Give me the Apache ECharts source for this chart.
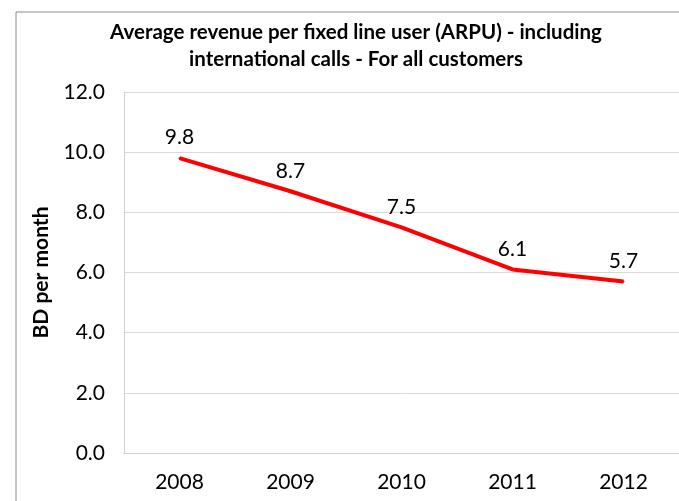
<!DOCTYPE html>
<html>
<head>
<meta charset="utf-8">
<script src="https://cdn.jsdelivr.net/npm/echarts@6/dist/echarts.min.js"></script>
<style>
html,body{margin:0;padding:0;background:#fff;}
#chart{width:679px;height:501px;}
</style>
</head>
<body>
<div id="chart"></div>
<script>
// categories and values
const years = ['2008', '2009', '2010', '2011', '2012'];
const arpu = [9.8, 8.7, 7.5, 6.1, 5.7];

const font = 'Lato, "Open Sans", sans-serif';
let chart = echarts.init(document.getElementById('chart'));
chart.setOption({
	backgroundColor: '#fff',
	animation: false,
	title: {
		text: 'Average revenue per fixed line user (ARPU) - including\ninternational calls - For all customers',
		left: 351, top: 14, textAlign: 'center',
		textStyle: { fontFamily: font, fontSize: 20.5, fontWeight: 'bold', color: '#000', lineHeight: 27 }
	},
	graphic: [{
		type: 'rect', shape: { x: 16, y: 12, width: 700, height: 600 },
		style: { fill: 'none', stroke: '#8c8c8c', lineWidth: 1 }, silent: true
	}],
	grid: { left: 124, right: -5, top: 92, bottom: 48 },
	xAxis: {
		type: 'category', data: years, boundaryGap: true,
		axisLine: { lineStyle: { color: '#d0d0d0', width: 1 } },
		axisTick: { show: false },
		axisLabel: { fontFamily: font, fontSize: 21, color: '#000', margin: 19 }
	},
	yAxis: {
		type: 'value', min: 0, max: 12, interval: 2,
		name: 'BD per month', nameLocation: 'middle', nameGap: 72,
		nameTextStyle: { fontFamily: font, fontSize: 21, fontWeight: 'bold', color: '#000' },
		axisLine: { show: true, lineStyle: { color: '#d0d0d0', width: 1 } },
		axisTick: { show: false },
		splitLine: { lineStyle: { color: '#d9d9d9', width: 1 } },
		axisLabel: { fontFamily: font, fontSize: 21, color: '#000', margin: 19, formatter: v => v.toFixed(1) }
	},
	series: [{
		type: 'line', data: arpu, symbol: 'circle', symbolSize: 2, showSymbol: true,
		lineStyle: { color: '#ff0000', width: 4 },
		itemStyle: { color: '#ff0000' },
		label: { show: true, position: 'top', distance: 9, fontFamily: font, fontSize: 21, color: '#000', formatter: p => p.value.toFixed(1) }
	}]
});
</script>
</body>
</html>
